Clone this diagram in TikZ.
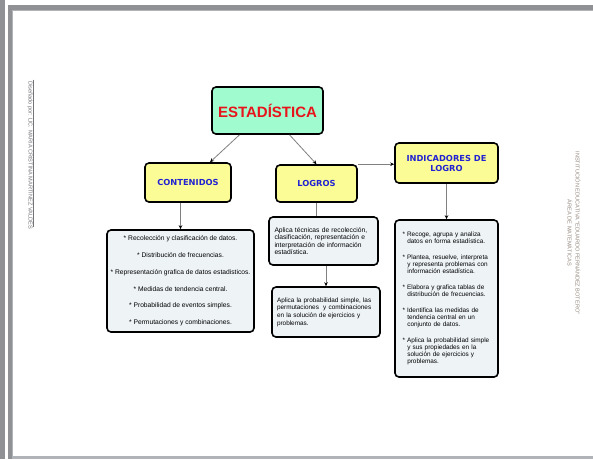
\documentclass[tikz,border=0pt]{standalone}
\usepackage{fontspec}
\setmainfont{Liberation Sans}
\newfontfamily\headfont{DejaVu Sans}
\usetikzlibrary{arrows.meta, positioning}
\definecolor{mymint}{RGB}{160,252,206}
\definecolor{myyellow}{RGB}{252,252,150}
\definecolor{myred}{RGB}{232,20,28}
\definecolor{myblue}{RGB}{34,34,210}
\definecolor{mygray}{RGB}{238,243,246}
\definecolor{mylink}{RGB}{128,128,128}
\definecolor{framegray}{RGB}{143,145,148}
\definecolor{edgegray}{RGB}{176,179,183}
\definecolor{sidegray}{RGB}{115,115,120}
\definecolor{sidebrown}{RGB}{150,138,128}

\begin{document}
\begin{tikzpicture}[x=1pt, y=-1pt,
    mainbox/.style={draw=black, line width=1.6pt, rounded corners=4pt, fill=mymint, text=myred, font=\fontsize{15}{18}\selectfont\bfseries},
    headbox/.style={draw=black, line width=1.6pt, rounded corners=4pt, fill=myyellow, text=myblue, font=\headfont\bfseries\fontsize{8.3}{10}\selectfont, align=center, inner sep=0pt},
    infobox/.style={draw=black, line width=1.6pt, rounded corners=4pt, fill=mygray, font=\fontsize{6.7}{7.4}\selectfont, inner sep=0pt},
    link/.style={draw=mylink, line width=0.8pt, -{Stealth[length=4pt,width=3.5pt,black]}},
    sidetext/.style={font=\fontsize{5.6}{8}\selectfont, inner sep=0pt}]
    \useasboundingbox (0,0) rectangle (593,459);
    % page frame
    \fill[framegray] (0,0) rectangle (5,459);
    \fill[framegray] (8,5) rectangle (593,459);
    \fill[edgegray] (12,10) rectangle (593,459);
    \fill[white] (13,11) rectangle (593,456);

    % margin texts
    \node[sidetext, text=sidegray, rotate=-90] (ltext) at (30.5,155) {Diseñado por: LIC. MARIA CRISTINA MARTINEZ VALDÉS};
    \draw[sidegray, line width=0.5pt] ([yshift=1.5pt]ltext.north west) -- ([yshift=1.5pt]ltext.north east);
    \node[sidetext, text=sidebrown, rotate=-90, align=center] (rtext) at (574,233) {INSTITUCIÓN EDUCATIVA “EDUARDO FERNÁNDEZ BOTERO”\\ ÁREA DE MATEMÁTICAS};

    % concept boxes
    \node[mainbox, minimum width=111, minimum height=47] (estad) at (267.5,110.5) {ESTADÍSTICA};
    \node[headbox, minimum width=86, minimum height=39] (conten) at (188,182.5) {CONTENIDOS};
    \node[headbox, minimum width=81, minimum height=37] (logros) at (316.5,183.5) {LOGROS};
    \node[headbox, minimum width=103, minimum height=40] (indic) at (446.5,163) {INDICADORES DE\\ LOGRO};

    \node[infobox, minimum width=147, minimum height=102, align=center, font=\fontsize{6.7}{16.8}\selectfont] (contbox) at (180.5,281) {* Recolección y clasificación de datos.\\ * Distribución de frecuencias.\\ * Representación grafica de datos estadisticos.\\ * Medidas de tendencia central.\\ * Probabilidad de eventos simples.\\ * Permutaciones y combinaciones.};
    \node[infobox, minimum width=109, minimum height=48, text width=98, align=left] (logbox1) at (323.5,241) {Aplica técnicas de recolección,\\ clasificación, representación e\\ interpretación de información\\ estadística.};
    \node[infobox, minimum width=108, minimum height=50, text width=98, align=left, font=\fontsize{6.4}{7.6}\selectfont] (logbox2) at (326,312) {Aplica la probabilidad simple, las\\ permutaciones~ y combinaciones\\ en la solución de ejercicios y\\ problemas.};
    \node[infobox, minimum width=103, minimum height=157, text width=88, align=left, font=\fontsize{6.4}{7}\selectfont] (indbox) at (446.5,298.5) {*\ Recoge, agrupa y analiza\\ \hspace*{4.8pt}datos en forma estadística.\\[9pt]
        *\ Plantea, resuelve, interpreta\\ \hspace*{4.8pt}y representa problemas con\\ \hspace*{4.8pt}información estadística.\\[9pt]
        *\ Elabora y grafica tablas de\\ \hspace*{4.8pt}distribución de frecuencias.\\[9pt]
        *\ Identifica las medidas de\\ \hspace*{4.8pt}tendencia central en un\\ \hspace*{4.8pt}conjunto de datos.\\[9pt]
        *\ \makebox[81pt][s]{Aplica la probabilidad simple}\\ \hspace*{4.8pt}\makebox[81pt][s]{y sus propiedades en la}\\ \hspace*{4.8pt}\makebox[81pt][s]{solución de ejercicios y}\\ \hspace*{4.8pt}problemas.};

    % connectors
    \draw[link] ([xshift=-28pt]estad.south) -- ([xshift=22pt]conten.north);
    \draw[link] ([xshift=22pt]estad.south) -- (logros.north);
    \draw[link] (logros.north east) -- (logros.north east -| indic.west);
    \draw[link] (contbox.north |- conten.south) -- (contbox.north);
    \draw[draw=mylink, line width=0.8pt] (logros.south) -- (logros.south |- logbox1.north);
    \draw[link] (logbox2.north |- logbox1.south) -- (logbox2.north);
    \draw[link] (indic.south) -- (indic.south |- indbox.north);
\end{tikzpicture}
\end{document}
